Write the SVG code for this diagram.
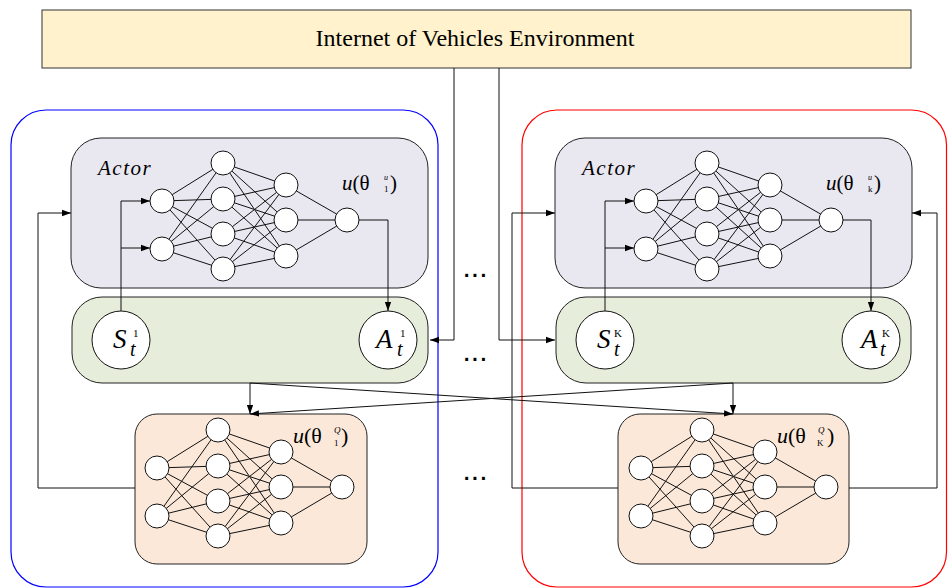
<svg xmlns="http://www.w3.org/2000/svg" xmlns:xlink="http://www.w3.org/1999/xlink" width="948" height="588" viewBox="0 0 948 588" font-family="'Liberation Serif', 'DejaVu Serif', serif">
<style>
text{font-family:'Liberation Serif','DejaVu Serif',serif;fill:#000}
.it{font-style:italic}
.ln{fill:none;stroke:#111;stroke-width:1}
.nd{fill:#fff;stroke:#111;stroke-width:1}
.actor{fill:#e9e7f0;stroke:#222;stroke-width:1}
.state{fill:#e6eedb;stroke:#222;stroke-width:1}
.critic{fill:#fbe8d9;stroke:#222;stroke-width:1}
text.dots{font-family:'Liberation Sans',Arial,sans-serif;font-size:30px}
</style>
<defs>
<marker id="arr" viewBox="0 0 10 10" refX="10" refY="5" markerWidth="9" markerHeight="9" orient="auto" markerUnits="userSpaceOnUse">
<path d="M0,1.5 L10,5 L0,8.5 z" fill="#000"/>
</marker>
<g id="net">
<path class="ln" d="M0 0L61 -38M0 0L61 -2M0 0L61 33M0 0L61 68M0 48L61 -38M0 48L61 -2M0 48L61 33M0 48L61 68M61 -38L124 -16M61 -38L124 19M61 -38L124 55M61 -2L124 -16M61 -2L124 19M61 -2L124 55M61 33L124 -16M61 33L124 19M61 33L124 55M61 68L124 -16M61 68L124 19M61 68L124 55M124 -16L185 19M124 19L185 19M124 55L185 19"/>
<circle class="nd" cx="0" cy="0" r="12"/>
<circle class="nd" cx="0" cy="48" r="12"/>
<circle class="nd" cx="61" cy="-38" r="12"/>
<circle class="nd" cx="61" cy="-2" r="12"/>
<circle class="nd" cx="61" cy="33" r="12"/>
<circle class="nd" cx="61" cy="68" r="12"/>
<circle class="nd" cx="124" cy="-16" r="12"/>
<circle class="nd" cx="124" cy="19" r="12"/>
<circle class="nd" cx="124" cy="55" r="12"/>
<circle class="nd" cx="185" cy="19" r="12"/>
</g>
</defs>
<rect width="948" height="588" fill="#fff"/>

<g id="agent1-container">
<rect x="11" y="110" width="427" height="477" rx="35" fill="none" stroke="#0000ff" stroke-width="1.2"/>
</g>
<g id="agentK-container">
<rect x="522" y="110" width="424.5" height="477" rx="35" fill="none" stroke="#ff0000" stroke-width="1.2"/>
</g>

<g id="environment">
<rect x="42" y="10" width="869" height="58" fill="#fff2cc" stroke="#333" stroke-width="1"/>
<text x="475" y="46" font-size="24" text-anchor="middle">Internet of Vehicles Environment</text>
</g>

<g id="actor1">
<rect class="actor" x="71" y="138" width="357" height="150" rx="30"/>
<text class="it" x="98" y="175" font-size="21" letter-spacing="1.5">Actor</text>
<text x="342" y="190" font-size="21"><tspan class="it">u</tspan>(θ</text>
<text class="it" x="384" y="180" font-size="8">u</text>
<text x="384" y="192" font-size="9">1</text>
<text x="390" y="190" font-size="21">)</text>
</g>
<g id="actorK">
<rect class="actor" x="555" y="138" width="357" height="150" rx="30"/>
<text class="it" x="582" y="175" font-size="21" letter-spacing="1.5">Actor</text>
<text x="826" y="190" font-size="21"><tspan class="it">u</tspan>(θ</text>
<text class="it" x="868" y="180" font-size="8">u</text>
<text x="868" y="192" font-size="9">k</text>
<text x="874" y="190" font-size="21">)</text>
</g>

<g id="state1">
<rect class="state" x="72" y="297" width="356" height="86" rx="30"/>
</g>
<g id="stateK">
<rect class="state" x="556" y="297" width="355" height="86" rx="30"/>
</g>

<g id="critic1">
<rect class="critic" x="135" y="414" width="232" height="150" rx="22"/>
<text x="293" y="443" font-size="22"><tspan class="it">u</tspan>(θ</text>
<text class="it" x="334" y="433" font-size="9">Q</text>
<text x="334" y="446" font-size="9">1</text>
<text x="341" y="443" font-size="22">)</text>
</g>
<g id="criticK">
<rect class="critic" x="618" y="414" width="231" height="150" rx="22"/>
<text x="777" y="443" font-size="22"><tspan class="it">u</tspan>(θ</text>
<text class="it" x="818" y="433" font-size="9">Q</text>
<text x="817" y="446" font-size="9">K</text>
<text x="827" y="443" font-size="22">)</text>
</g>

<g id="connectors">
<path class="ln" d="M454 68V340H430" marker-end="url(#arr)"/>
<path class="ln" d="M499 68V340H555" marker-end="url(#arr)"/>
<path class="ln" d="M121 311V201H150" marker-end="url(#arr)"/>
<path class="ln" d="M121 248H150" marker-end="url(#arr)"/>
<path class="ln" d="M605 311V201H634" marker-end="url(#arr)"/>
<path class="ln" d="M605 248H634" marker-end="url(#arr)"/>
<path class="ln" d="M347 220H388V311" marker-end="url(#arr)"/>
<path class="ln" d="M831 220H871V311" marker-end="url(#arr)"/>
<path class="ln" d="M135 488H38V213H71" marker-end="url(#arr)"/>
<path class="ln" d="M618 488H512V213H555" marker-end="url(#arr)"/>
<path class="ln" d="M849 488H937V213H912" marker-end="url(#arr)"/>
<path class="ln" d="M250 383V414" marker-end="url(#arr)"/>
<path class="ln" d="M250 383L733 414" marker-end="url(#arr)"/>
<path class="ln" d="M733 383V414" marker-end="url(#arr)"/>
<path class="ln" d="M733 383L250 414" marker-end="url(#arr)"/>
</g>

<g id="actor1-net"><use xlink:href="#net" transform="translate(162,201)"/></g>
<g id="actorK-net"><use xlink:href="#net" transform="translate(646,201)"/></g>
<g id="critic1-net"><use xlink:href="#net" transform="translate(157,468)"/></g>
<g id="criticK-net"><use xlink:href="#net" transform="translate(641,468)"/></g>

<g id="S1">
<circle class="nd" cx="121" cy="340" r="29"/>
<text class="it" x="113" y="348" font-size="27">S</text>
<text x="133" y="337" font-size="11">1</text>
<text class="it" x="130" y="356" font-size="20">t</text>
</g>
<g id="A1">
<circle class="nd" cx="388" cy="340" r="29"/>
<text class="it" x="376" y="348" font-size="27">A</text>
<text x="400" y="337" font-size="11">1</text>
<text class="it" x="397" y="356" font-size="20">t</text>
</g>
<g id="SK">
<circle class="nd" cx="605" cy="340" r="29"/>
<text class="it" x="597" y="348" font-size="27">S</text>
<text x="614" y="337" font-size="11">K</text>
<text class="it" x="614" y="356" font-size="20">t</text>
</g>
<g id="AK">
<circle class="nd" cx="871" cy="340" r="29"/>
<text class="it" x="861" y="348" font-size="27">A</text>
<text x="882" y="337" font-size="11">K</text>
<text class="it" x="880" y="356" font-size="20">t</text>
</g>

<g id="ellipses">
<text class="dots" x="475" y="277" text-anchor="middle">...</text>
<text class="dots" x="475" y="361" text-anchor="middle">...</text>
<text class="dots" x="475" y="480" text-anchor="middle">...</text>
</g>
</svg>
